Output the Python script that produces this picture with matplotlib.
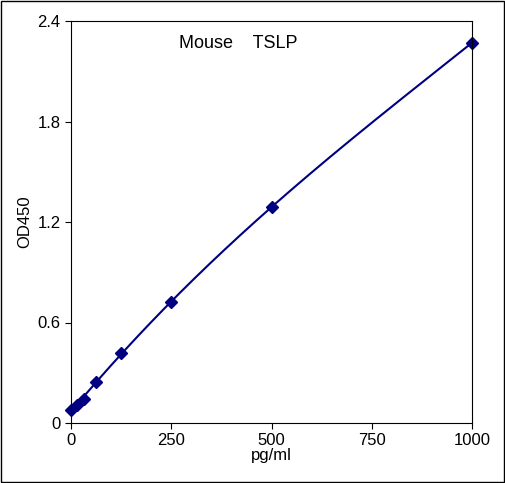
import numpy as np
import matplotlib.pyplot as plt

plt.rcParams['font.family'] = ['Liberation Sans', 'DejaVu Sans']

conc = [0, 15.6, 31.25, 62.5, 125, 250, 500, 1000]
od = [0.075, 0.11, 0.145, 0.245, 0.42, 0.72, 1.29, 2.27]
xticks = [0, 250, 500, 750, 1000]
yticks = [0, 0.6, 1.2, 1.8, 2.4]

fig = plt.figure(figsize=(5.05, 4.83), dpi=100)
fig.patches.append(plt.Rectangle((0.002, 0.002), 0.996, 0.996, transform=fig.transFigure,
                                 fill=False, edgecolor='black', linewidth=1))
ax = fig.add_axes([71/505, 1-423/483, 401/505, 402/483])

# smooth curve through the points
p = np.polyfit(conc, od, 3)
xs = np.linspace(0, 1000, 300)
ax.plot(xs, np.polyval(p, xs), color='#000080', linewidth=1.5)
ax.plot(conc, od, 'D', color='#000080', markersize=6, clip_on=False)

ax.set_xlim(0, 1000)
ax.set_ylim(0, 2.4)
ax.set_xticks(xticks)
ax.set_yticks(yticks)
ax.set_yticklabels(['0', '0.6', '1.2', '1.8', '2.4'])
ax.tick_params(labelsize=12, direction='out', length=4)
ax.set_xlabel('pg/ml', fontsize=12, labelpad=0)
ax.set_ylabel('OD450', fontsize=12)
ax.text(0.27, 0.965, 'Mouse    TSLP', transform=ax.transAxes, fontsize=13, va='top')
fig.savefig('out.png', dpi=100)
